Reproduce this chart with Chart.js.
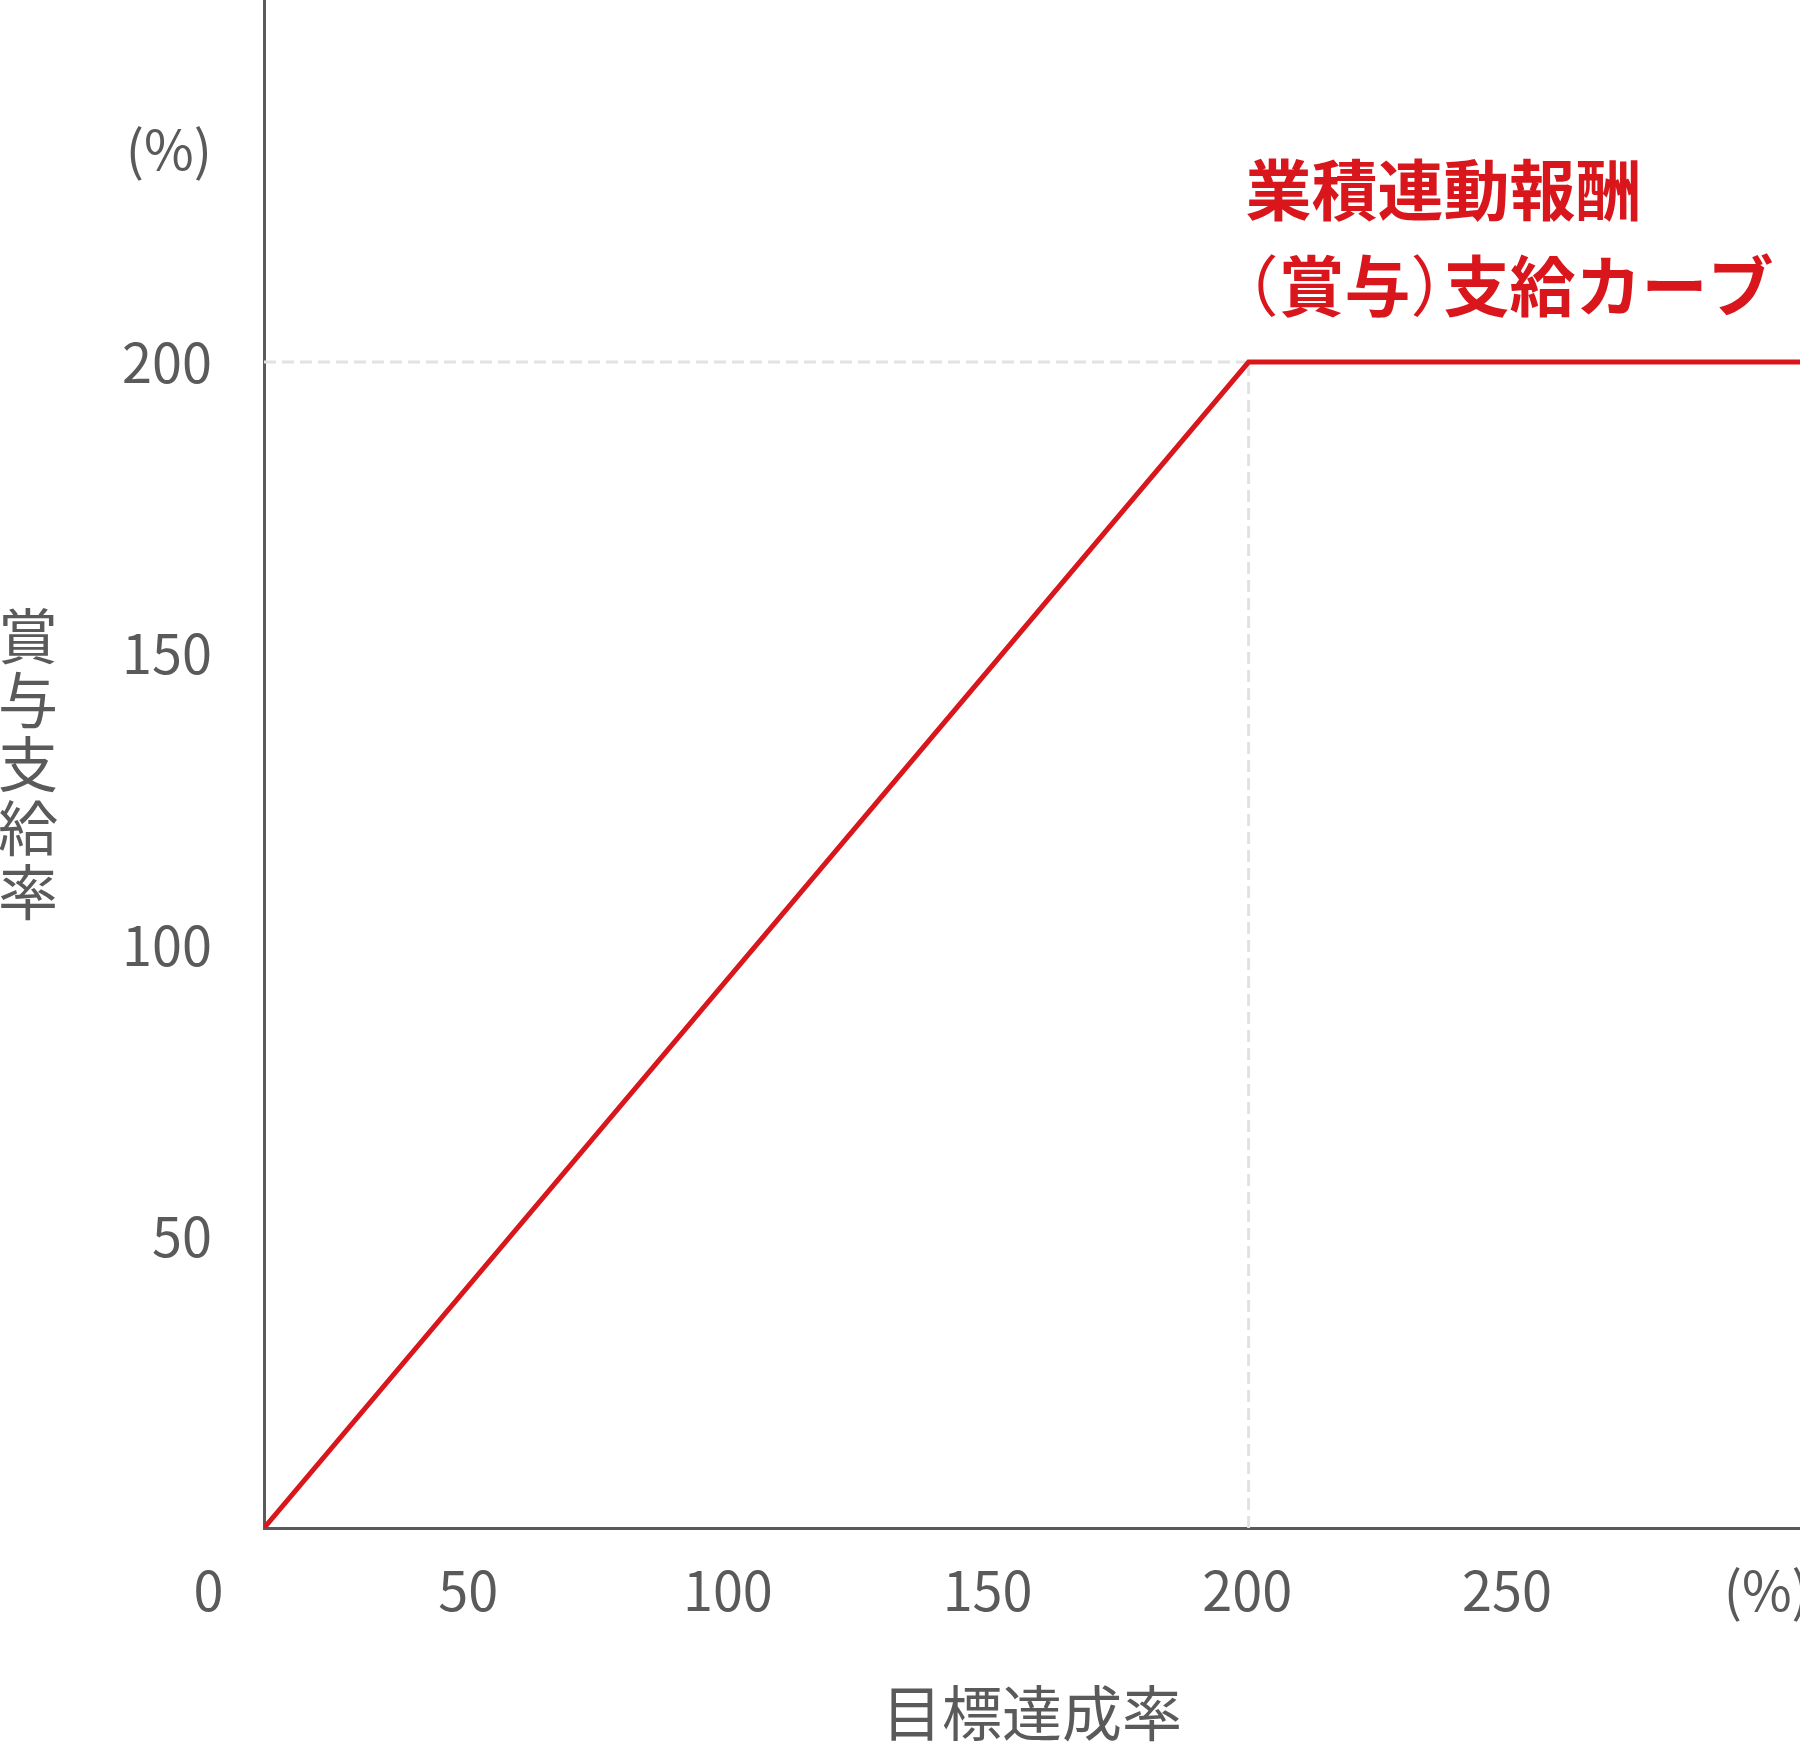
<!DOCTYPE html>
<html lang="ja">
<head>
<meta charset="utf-8">
<title>業積連動報酬（賞与）支給カーブ</title>
<script src="https://cdn.jsdelivr.net/npm/chart.js@4.4.1/dist/chart.umd.min.js"></script>
<style>
  html, body { margin: 0; padding: 0; background: #fff; }
  #wrap { position: relative; width: 1800px; height: 1743px; }
</style>
</head>
<body>
<div id="wrap"><canvas id="bonus-curve"></canvas></div>
<script>
// 目標達成率 (%) -> 賞与支給率 (%)
const achievement = [0, 200, 312];
const payout = [0, 200, 200];

// guide lines from the cap point back to the axes
const guideX = [0, 200];
const guideY = [200, 200];
const capX = [200, 200];
const capY = [0, 200];

// tick labels (the last value on each axis carries the unit)
const xTicks = [0, 50, 100, 150, 200, 250, 300];
const yTicks = [50, 100, 150, 200, 236.5];
const xUnitAt = 300;
const yUnitAt = 236.5;

const yTitle = ['賞', '与', '支', '給', '率'];
const xTitle = '目標達成率';
const curveLabel = ['業積連動報酬', '（賞与）支給カーブ'];

const gray = '#5a5a5a';
const red = '#d9161c';
const FONT = "'Noto Sans CJK JP', 'Noto Sans', sans-serif";

function points(xs, ys) {
  return xs.map((x, i) => ({x: x, y: ys[i]}));
}

// draws a line with full-width brackets squeezed to half width (like palt)
function drawSqueezed(ctx, text, x, y, size) {
  for (const ch of text) {
    if (ch === '（') {
      ctx.font = size + 'px ' + FONT;
      ctx.fillText(ch, x - size / 2, y);
      x += size / 2;
    } else if (ch === '）') {
      ctx.font = size + 'px ' + FONT;
      ctx.fillText(ch, x, y);
      x += size / 2;
    } else {
      ctx.font = 'bold ' + size + 'px ' + FONT;
      ctx.fillText(ch, x, y);
      x += ctx.measureText(ch).width;
    }
  }
}

// stacked vertical y title + red caption next to the cap
const textPlugin = {
  id: 'textPlugin',
  afterDraw(chart) {
    const ctx = chart.ctx;
    const area = chart.chartArea;
    const xs = chart.scales.x;
    const ys = chart.scales.y;
    ctx.save();
    ctx.fillStyle = gray;
    ctx.font = '60px ' + FONT;
    ctx.textAlign = 'center';
    ctx.textBaseline = 'middle';
    const mid = (area.top + area.bottom) / 2;
    yTitle.forEach((ch, i) => {
      ctx.fillText(ch, 28, mid + (i - 2) * 64);
    });

    ctx.fillStyle = red;
    ctx.textAlign = 'left';
    const left = xs.getPixelForValue(200) - 3;
    const top = ys.getPixelForValue(200);
    ctx.font = 'bold 66px ' + FONT;
    ctx.fillText(curveLabel[0], left, top - 172);
    drawSqueezed(ctx, curveLabel[1], left, top - 76, 66);
    ctx.restore();
  }
};

const ctx = document.getElementById('bonus-curve');
const chart = new Chart(ctx, {
  type: 'line',
  data: {
    datasets: [
      {
        label: '支給カーブ',
        data: points(achievement, payout),
        borderColor: red,
        borderWidth: 5,
        pointRadius: 0,
        tension: 0,
        fill: false,
        order: 0,
      },
      {
        label: 'guide',
        data: points(guideX, guideY),
        borderColor: '#e2e2e2',
        borderWidth: 3,
        borderDash: [12, 6],
        pointRadius: 0,
        fill: false,
        order: 1,
      },
      {
        label: 'cap',
        data: points(capX, capY),
        borderColor: '#e2e2e2',
        borderWidth: 3,
        borderDash: [12, 6],
        pointRadius: 0,
        fill: false,
        order: 1,
      },
    ],
  },
  options: {
    responsive: true,
    maintainAspectRatio: false,
    animation: false,
    layout: {padding: 0},
    plugins: {
      legend: {display: false},
      tooltip: {enabled: false},
    },
    scales: {
      x: {
        type: 'linear',
        position: 'bottom',
        min: 0,
        max: 312,
        ticks: {display: false},
        grid: {drawOnChartArea: false, drawTicks: false},
        border: {display: true, color: gray, width: 3},
        afterFit(scale) {
          scale.height = 0;
          scale.paddingLeft = 0;
          scale.paddingRight = 0;
        },
      },
      xl: {
        type: 'linear',
        position: 'bottom',
        min: 10.7,
        max: 306.4,
        afterBuildTicks(scale) {
          scale.ticks = xTicks.map(v => ({value: v}));
        },
        ticks: {
          autoSkip: false,
          maxRotation: 0,
          minRotation: 0,
          padding: 35,
          color: gray,
          font: {family: FONT, size: 54, lineHeight: 1},
          callback: v => (v === xUnitAt ? '(%)' : String(v)),
        },
        grid: {display: false, drawTicks: false},
        border: {display: false},
        title: {
          display: true,
          text: xTitle,
          color: gray,
          font: {family: FONT, size: 60, lineHeight: 1},
          padding: {top: 0, bottom: 0},
        },
        afterFit(scale) {
          scale.height = 215;
          scale.paddingLeft = 0;
          scale.paddingRight = 0;
        },
      },
      y: {
        type: 'linear',
        position: 'left',
        min: 0,
        max: 262.1,
        afterBuildTicks(scale) {
          scale.ticks = yTicks.map(v => ({value: v}));
        },
        ticks: {
          autoSkip: false,
          padding: 52,
          color: gray,
          font: {family: FONT, size: 54, lineHeight: 1},
          callback: v => (v === yUnitAt ? '(%)' : String(v)),
        },
        grid: {drawOnChartArea: false, drawTicks: false},
        border: {display: true, color: gray, width: 3},
        afterFit(scale) {
          scale.width = 264;
          scale.paddingTop = 0;
          scale.paddingBottom = 0;
        },
      },
    },
  },
  plugins: [textPlugin],
});
</script>
</body>
</html>
